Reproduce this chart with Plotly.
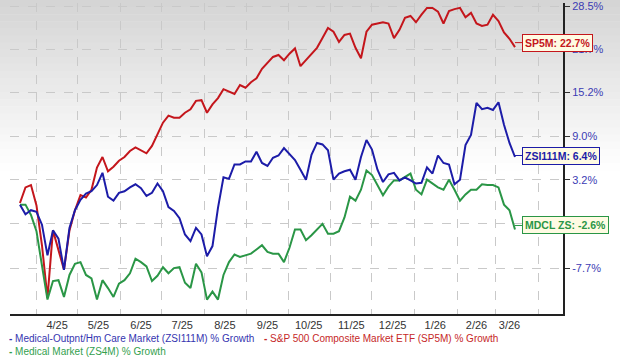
import math
import plotly.graph_objects as go
import pandas as pd

# ---------------- data ----------------
start_date = "2025-03-20"   # first observation, one value every 4 days
step = "4D"

zsi111m = [0.0, -1.2, -0.7, -0.9, -2.5, -6.2, -3.2, -4.2, -7.9, -2.9,
           -0.7, 0.6, 1.4, 1.7, 2.5, 4.1, 1.0, 0.5, 1.5, 1.7,
           2.2, 2.6, 2.1, 1.1, 1.5, 2.7, 1.7, -0.3, -0.8, -1.7,
           -3.7, -4.5, -2.9, -3.7, -6.3, -5.1, -0.4, 3.5, 3.3, 5.2,
           5.2, 5.6, 5.6, 6.9, 5.4, 5.0, 6.1, 6.4, 7.4, 6.6,
           5.8, 4.5, 3.2, 6.5, 8.1, 7.9, 7.1, 3.2, 4.0, 4.3,
           4.5, 3.2, 6.2, 8.5, 7.2, 4.5, 2.9, 3.9, 4.1, 3.1,
           3.5, 3.1, 2.7, 2.8, 4.8, 4.0, 6.4, 5.4, 5.2, 2.6,
           3.2, 7.8, 9.2, 13.7, 12.8, 13.0, 12.7, 13.8, 10.6, 8.1,
           6.2]

sp5m = [0.2, 2.2, 2.5, -0.1, -5.0, -11.1, -3.2, -5.6, -7.9, -3.2,
        -0.7, 1.2, 0.9, 1.9, 4.8, 6.2, 4.3, 4.9, 5.7, 6.2,
        7.0, 7.5, 7.1, 6.7, 7.7, 9.3, 10.9, 11.9, 11.6, 11.6,
        12.3, 12.8, 14.0, 14.1, 12.3, 13.5, 14.4, 15.7, 15.3, 15.0,
        16.3, 15.9, 16.7, 17.3, 18.7, 19.6, 20.5, 20.8, 20.0, 21.0,
        21.8, 19.1, 20.0, 21.0, 21.9, 23.4, 25.0, 24.4, 22.8, 23.9,
        24.1, 21.9, 20.3, 24.4, 25.5, 25.7, 25.9, 25.7, 23.4, 24.7,
        26.6, 26.9, 25.9, 27.1, 28.2, 28.2, 27.6, 25.7, 27.7, 28.0,
        28.2, 26.7, 27.4, 25.7, 25.3, 25.5, 27.1, 26.1, 24.3, 23.3,
        22.0]

zs4m = [0.0, 0.0, -1.3, -3.3, -7.4, -11.3, -9.2, -9.1, -11.0, -8.5,
        -7.2, -7.0, -8.5, -8.9, -11.3, -9.1, -10.0, -11.0, -9.5, -9.1,
        -8.3, -6.6, -7.0, -7.5, -9.2, -8.6, -7.6, -8.3, -7.7, -7.6,
        -9.4, -10.0, -7.2, -8.2, -11.3, -10.4, -11.3, -8.5, -7.0, -6.1,
        -6.4, -6.2, -6.0, -5.5, -5.0, -5.8, -6.0, -6.0, -7.0, -5.3,
        -3.1, -3.1, -4.4, -3.8, -3.1, -2.4, -3.6, -3.6, -3.3, -1.6,
        1.0, 0.5, 1.9, 4.4, 3.8, 2.5, 1.2, 2.3, 3.1, 3.1,
        3.5, 4.0, 1.9, 1.3, 3.2, 2.7, 2.2, 1.9, 3.2, 1.9,
        0.5, 1.3, 1.9, 1.9, 2.6, 2.5, 2.5, 2.2, 0.0, -0.7,
        -3.1]

series_names = ["Medical-Outpnt/Hm Care Market (ZSI111M) % Growth",
                "S&P 500 Composite Market ETF (SP5M) % Growth",
                "Medical Market (ZS4M) % Growth"]
end_labels = ["ZSI111M: 6.4%", "SP5M: 22.7%", "MDCL ZS: -2.6%"]
end_values = [6.4, 22.7, -2.6]

y_tick_pct = [-7.7, -2.4, 3.2, 9.0, 15.2, 21.7, 28.5]
y_tick_labels = ["-7.7%", "-2.4%", "3.2%", "9.0%", "15.2%", "21.7%", "28.5%"]

x_tick_dates = ["2025-04-16", "2025-05-16", "2025-06-16", "2025-07-16",
                "2025-08-16", "2025-09-16", "2025-10-16", "2025-11-16",
                "2025-12-16", "2026-01-16", "2026-02-15", "2026-03-11"]
x_tick_labels = ["4/25", "5/25", "6/25", "7/25", "8/25", "9/25", "10/25",
                 "11/25", "12/25", "1/26", "2/26", "3/26"]

# ---------------- styling ----------------
line_colors = ["#1c1ca8", "#c4161c", "#2a9646"]
text_colors = ["#3535b0", "#c62828", "#33a04e"]
FONT = "Liberation Sans, Arial, sans-serif"

dates = pd.date_range(start_date, periods=len(sp5m), freq=step)
all_series = [zsi111m, sp5m, zs4m]

fig = go.Figure()
# draw order: red behind, then green, then blue
for idx in [1, 2, 0]:
    fig.add_trace(go.Scatter(
        x=dates,
        y=[1 + v / 100 for v in all_series[idx]],
        mode="lines",
        name=series_names[idx],
        line=dict(color=line_colors[idx], width=2),
        showlegend=False,
        hoverinfo="skip",
    ))

# gray-to-white gradient in the upper part of the figure
n_bands = 24
top_px, fade_px, plot_top, plot_bottom = 0, 170, 3, 314
plot_h = plot_bottom - plot_top
for i in range(n_bands):
    p0 = top_px + fade_px * i / n_bands
    p1 = top_px + fade_px * (i + 1) / n_bands + 0.6
    t = (i + 0.5) / n_bands
    lvl = int(round(212 + (255 - 212) * t))
    fig.add_shape(type="rect", xref="paper", yref="paper",
                  x0=-0.03, x1=1.12,
                  y0=(plot_bottom - p1) / plot_h, y1=(plot_bottom - p0) / plot_h,
                  fillcolor=f"rgb({lvl},{lvl},{lvl})", line=dict(width=0),
                  layer="below")

# end-of-line callout labels (log axis: annotation y is given in log10 units)
for idx in range(3):
    fig.add_annotation(
        x=dates[-1], y=math.log10(1 + end_values[idx] / 100), xref="x", yref="y",
        text=f"<b>{end_labels[idx]}</b>",
        showarrow=True, arrowhead=0, arrowwidth=1, arrowcolor=line_colors[idx],
        ax=7, ay=0, xanchor="left", yanchor="middle",
        font=dict(family=FONT, size=10.5, color=line_colors[idx]),
        bgcolor="#fffbe3", bordercolor=line_colors[idx], borderwidth=1, borderpad=2,
    )

# legend below the chart
legend_pos = [(-0.005, -0.080), (0.455, -0.080), (-0.005, -0.122)]
for idx in range(3):
    lx, ly = legend_pos[idx]
    fig.add_annotation(
        x=lx, y=ly, xref="paper", yref="paper", showarrow=False,
        xanchor="left", yanchor="middle",
        text=f"<b>-</b> {series_names[idx]}",
        font=dict(family=FONT, size=10, color=text_colors[idx]),
    )

grid_col = "#c9c9c9"
fig.update_layout(
    width=620, height=363,
    margin=dict(l=10, r=57, t=3, b=49, autoexpand=False),
    paper_bgcolor="white",
    plot_bgcolor="rgba(0,0,0,0)",
    font=dict(family=FONT, size=11, color="#333"),
    xaxis=dict(
        type="date", automargin=False,
        range=["2025-03-12 18:00", "2026-04-18 22:00"],
        tickmode="array", tickvals=x_tick_dates, ticktext=x_tick_labels,
        showgrid=False, ticks="",
        tickfont=dict(family=FONT, size=11, color="#333"),
        showline=True, linecolor="#222", linewidth=2,
        minor=dict(dtick="M1", tick0="2025-04-01", showgrid=True,
                   gridcolor=grid_col, griddash="dash", gridwidth=1, ticks=""),
        zeroline=False,
    ),
    yaxis=dict(
        type="log", automargin=False,
        range=[-0.05998, 0.11057],
        side="right",
        tickmode="array",
        tickvals=[1 + v / 100 for v in y_tick_pct],
        ticktext=y_tick_labels,
        ticklabeloverflow="allow",
        tickfont=dict(family=FONT, size=11, color="#3c3cb4"),
        ticks="outside", ticklen=5, tickcolor="#333", tickwidth=1,
        showgrid=True, gridcolor=grid_col, griddash="dash", gridwidth=1,
        showline=True, linecolor="#222", linewidth=2,
        zeroline=False,
    ),
)

fig.write_html("out.html",
               config={"displayModeBar": False},
               post_script="document.body.style.margin='0';document.body.style.padding='0';")
